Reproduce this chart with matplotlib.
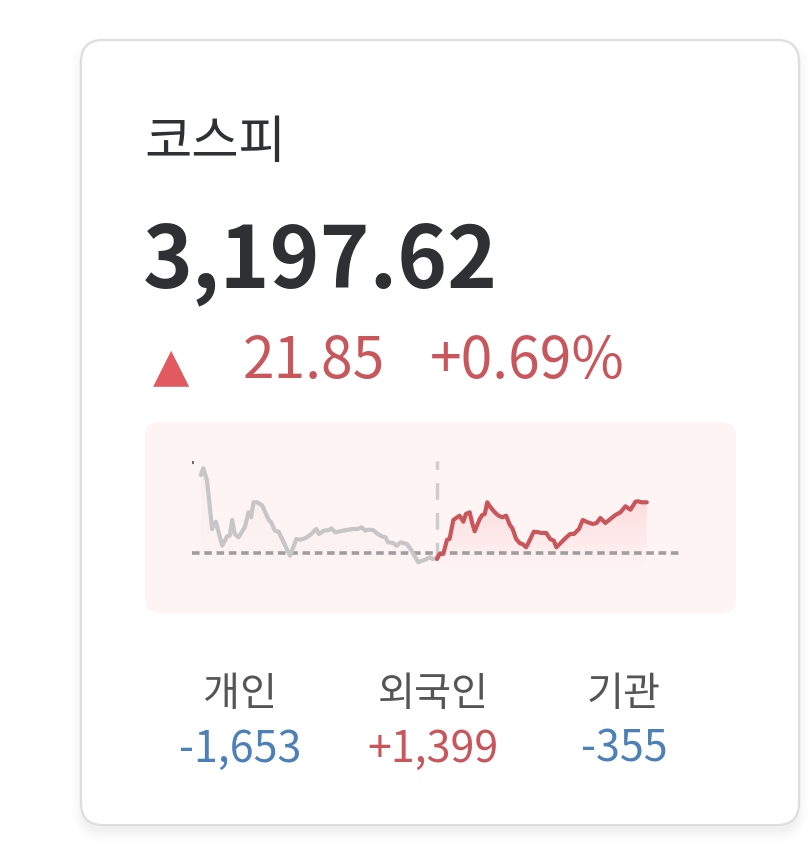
import matplotlib
matplotlib.use("Agg")
import matplotlib.pyplot as plt
from matplotlib.patches import FancyBboxPatch, Polygon
from matplotlib.colors import LinearSegmentedColormap
import numpy as np

plt.rcParams['font.family'] = ['Noto Sans CJK KR', 'DejaVu Sans']

# ---------------- data ----------------
index_name = "코스피"
index_value = "3,197.62"
change_value = "21.85"
change_pct = "+0.69%"
prev_close = 3175.77

# minutes since market open (09:00), index values
gray_t = [7, 9, 12, 16, 19, 24, 28, 30, 32, 34, 37, 42, 45, 47, 49, 52, 56, 61, 63, 66, 69,
          78, 83, 86, 90, 94, 99, 101, 105, 109, 111, 114, 120, 123, 128, 132, 135, 138, 140,
          144, 148, 151, 154, 156, 160, 163, 166, 171, 174, 180, 187, 189, 192, 195]
gray_v = [3209.12, 3211.97, 3206.69, 3186.12, 3189.23, 3179.01, 3183.01, 3183.27, 3189.95,
          3183.99, 3182.58, 3186.84, 3193.23, 3191.10, 3197.49, 3197.49, 3196.04, 3190.08,
          3188.97, 3185.40, 3184.97, 3174.75, 3181.86, 3181.56, 3182.16, 3183.56, 3186.12,
          3183.99, 3185.40, 3185.69, 3186.42, 3184.71, 3185.40, 3185.69, 3186.12, 3186.12,
          3186.84, 3185.40, 3185.82, 3185.69, 3183.99, 3183.01, 3182.58, 3180.45, 3180.16,
          3179.01, 3180.45, 3179.73, 3177.60, 3171.94, 3173.34, 3174.07, 3173.34, 3174.07]
red_t = [195, 197, 200, 203, 205, 208, 211, 213, 216, 218, 221, 223, 225, 229, 231, 233, 235,
         237, 241, 244, 247, 250, 253, 255, 258, 261, 263, 266, 269, 272, 276, 278, 282, 285,
         288, 290, 294, 298, 301, 304, 308, 311, 315, 319, 322, 325, 329, 333, 337, 341, 345,
         349, 353, 355, 358, 362]
red_v = [3173.34, 3175.47, 3175.47, 3181.56, 3181.86, 3189.95, 3191.10, 3191.78, 3189.23,
         3192.51, 3193.23, 3188.67, 3185.14, 3190.38, 3192.08, 3192.51, 3197.49, 3195.79,
         3193.23, 3191.78, 3191.10, 3191.78, 3187.82, 3186.42, 3181.86, 3180.03, 3179.73,
         3178.33, 3181.56, 3184.97, 3184.71, 3184.42, 3184.42, 3181.86, 3181.14, 3178.33,
         3180.45, 3182.58, 3183.99, 3183.99, 3186.12, 3189.95, 3188.97, 3188.25, 3188.67,
         3190.80, 3188.67, 3190.38, 3192.08, 3193.23, 3195.79, 3194.34, 3197.75, 3197.92,
         3197.49, 3197.49]
split_t = 195
session_minutes = 390

investors = ["개인", "외국인", "기관"]
flows = ["-1,653", "+1,399", "-355"]
flow_sign = [-1, 1, -1]

# ---------------- styling ----------------
W, H = 808, 853
RED = "#c9565b"
TRI_RED = "#e05a60"
BLUE = "#4b80b8"
DARK = "#2e3033"
LABEL = "#555555"

fig = plt.figure(figsize=(W / 100, H / 100), dpi=100)
fig.patch.set_facecolor("white")

bg = fig.add_axes([0, 0, 1, 1])
bg.set_xlim(0, W)
bg.set_ylim(H, 0)
bg.axis("off")

# card shadow
for i, a in enumerate([0.018, 0.014, 0.01, 0.006]):
    sh = FancyBboxPatch((81 - i * 3, 44 - i * 3 + 4), 718 + i * 6, 785 + i * 6,
                        boxstyle="round,pad=0,rounding_size=%d" % (22 + i * 3),
                        facecolor="black", edgecolor="none", alpha=a, zorder=0)
    bg.add_patch(sh)
card = FancyBboxPatch((81, 41), 718, 785, boxstyle="round,pad=0,rounding_size=22",
                      facecolor="white", edgecolor="#dedede", linewidth=1.6, zorder=1)
bg.add_patch(card)

panel = FancyBboxPatch((145, 423), 591, 191, boxstyle="round,pad=0,rounding_size=14",
                       facecolor="#fff4f4", edgecolor="none", zorder=2)
bg.add_patch(panel)

bg.text(144, 158, index_name, fontsize=37, color=DARK, fontweight="medium",
        ha="left", va="baseline", zorder=3)
bg.text(143, 287, index_value, fontsize=61, color=DARK, fontweight="bold",
        ha="left", va="baseline", zorder=3)
bg.text(153, 380, "▲", fontsize=34, color=TRI_RED, ha="left", va="baseline",
        family=['DejaVu Sans'], zorder=3)
bg.text(243, 378, change_value, fontsize=41, color=RED, ha="left", va="baseline", zorder=3)
bg.text(430, 378, change_pct, fontsize=41, color=RED, ha="left", va="baseline", zorder=3)

xs = [240, 433, 624]
for x, lab, val, s in zip(xs, investors, flows, flow_sign):
    bg.text(x, 706, lab, fontsize=29, color=LABEL, ha="center", va="baseline", zorder=3)
    bg.text(x, 762, val, fontsize=31, color=(RED if s > 0 else BLUE), ha="center",
            va="baseline", zorder=3)

# ---------------- sparkline ----------------
ax_l, ax_r, ax_top, ax_bot = 192, 682, 455, 575
ax = fig.add_axes([ax_l / W, (H - ax_bot) / H, (ax_r - ax_l) / W, (ax_bot - ax_top) / H])
ax.patch.set_alpha(0)
ylo, yhi = 3166.95, 3218.06
ax.set_xlim(0, session_minutes)
ax.set_ylim(ylo, yhi)
ax.axis("off")

fill_base = 3169.0


def gradient_fill(t, v, rgb, amax):
    top = max(v)
    cmap = LinearSegmentedColormap.from_list(
        "g", [(rgb[0], rgb[1], rgb[2], 0.0), (rgb[0], rgb[1], rgb[2], amax)])
    grad = np.linspace(0, 1, 256).reshape(-1, 1)
    im = ax.imshow(grad, cmap=cmap, aspect="auto", origin="lower",
                   extent=[t[0], t[-1], fill_base, top], zorder=1)
    verts = [(t[0], fill_base)] + list(zip(t, v)) + [(t[-1], fill_base)]
    poly = Polygon(verts, closed=True, facecolor="none", edgecolor="none")
    ax.add_patch(poly)
    im.set_clip_path(poly)


gradient_fill(gray_t, gray_v, (0.6, 0.6, 0.6), 0.07)
gradient_fill(red_t, red_v, (0.95, 0.55, 0.58), 0.22)
ax.set_xlim(0, session_minutes)
ax.set_ylim(ylo, yhi)

ax.axhline(prev_close, color="#9e9e9e", linewidth=2.6, dashes=(2.1, 1.3), zorder=2)
ax.axvline(split_t, ymin=0.125, ymax=0.942, color="#cdcdcd", linewidth=2.5,
           dashes=(4.8, 3.8), zorder=2)

ax.plot(gray_t, gray_v, color="#c6c6c6", linewidth=3.0, solid_joinstyle="round",
        solid_capstyle="round", zorder=3)
ax.plot(red_t, red_v, color=RED, linewidth=3.0, solid_joinstyle="round",
        solid_capstyle="round", zorder=4)
ax.plot([0], [3214.65], marker="s", markersize=1.2, color="#666666", zorder=4)

fig.savefig("out.png", dpi=100, facecolor="white")
